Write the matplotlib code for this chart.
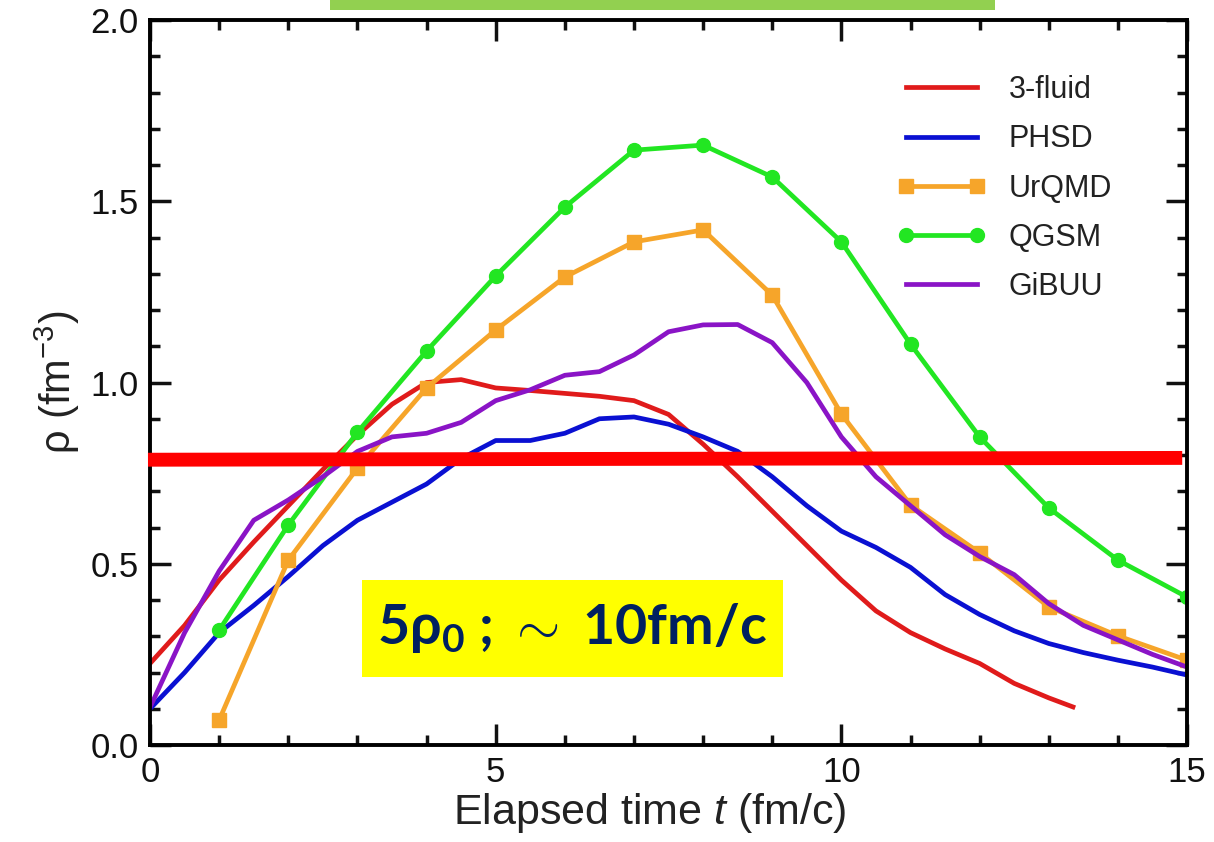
import numpy as np
import matplotlib
matplotlib.use('Agg')
import matplotlib.pyplot as plt
from matplotlib.patches import Rectangle

'''
Data read off the reference picture
'''
t_model = [1, 2, 3, 4, 5, 6, 7, 8, 9, 10, 11, 12, 13, 14, 15]
rho_urqmd = [0.069, 0.51, 0.764, 0.985, 1.145, 1.291, 1.388, 1.421, 1.241,
             0.913, 0.662, 0.53, 0.381, 0.301, 0.234]
rho_qgsm = [0.317, 0.607, 0.863, 1.087, 1.294, 1.484, 1.641, 1.655, 1.567,
            1.388, 1.106, 0.85, 0.654, 0.51, 0.408]

t_fluid = [0, 0.5, 1, 1.5, 2, 2.5, 3, 3.5, 4, 4.5, 5, 5.5, 6, 6.5, 7, 7.5,
           8, 8.5, 9, 9.5, 10, 10.5, 11, 11.5, 12, 12.5, 13, 13.35]
rho_fluid = [0.225, 0.33, 0.455, 0.56, 0.66, 0.76, 0.855, 0.94, 1.0, 1.008,
             0.985, 0.978, 0.97, 0.962, 0.95, 0.912, 0.83, 0.74, 0.645,
             0.55, 0.455, 0.37, 0.31, 0.265, 0.225, 0.17, 0.13, 0.105]

t_half = [0, 0.5, 1, 1.5, 2, 2.5, 3, 3.5, 4, 4.5, 5, 5.5, 6, 6.5, 7, 7.5,
          8, 8.5, 9, 9.5, 10, 10.5, 11, 11.5, 12, 12.5, 13, 13.5, 14, 14.5, 15]
rho_phsd = [0.10, 0.2, 0.31, 0.385, 0.465, 0.55, 0.62, 0.67, 0.72, 0.79,
            0.84, 0.84, 0.86, 0.9, 0.905, 0.885, 0.85, 0.81, 0.74, 0.66,
            0.59, 0.545, 0.49, 0.415, 0.36, 0.315, 0.28, 0.255, 0.234, 0.215,
            0.193]
rho_gibuu = [0.104, 0.31, 0.48, 0.62, 0.676, 0.74, 0.81, 0.85, 0.86, 0.89,
             0.95, 0.98, 1.02, 1.03, 1.076, 1.14, 1.159, 1.16, 1.11, 1.0,
             0.85, 0.74, 0.66, 0.58, 0.52, 0.47, 0.39, 0.33, 0.29, 0.25,
             0.215]

# Hand-drawn threshold bar (5 rho_0)
threshold_t = [-0.03, 14.93]
threshold_rho = [0.787, 0.792]

note_text = '5ρ$_{\\mathbf{0}}$ ; ${\\sim}$ 10fm/c'

# Fonts
plt.rcParams['font.family'] = ['Liberation Sans', 'DejaVu Sans']
plt.rcParams['mathtext.fontset'] = 'custom'
plt.rcParams['mathtext.rm'] = 'Liberation Sans'
plt.rcParams['mathtext.it'] = 'Liberation Sans:italic'
plt.rcParams['mathtext.bf'] = 'Lato:bold'

fig = plt.figure(figsize=(12.14, 8.42), dpi=100)
ax = fig.add_axes([0.1236, 0.1152, 0.8542, 0.861])

ax.plot(t_fluid, rho_fluid, color='#e01b1b', lw=3.4, label='3-fluid')
ax.plot(t_half, rho_phsd, color='#0a10d2', lw=3.4, label='PHSD')
ax.plot(t_model, rho_urqmd, color='#f6a52a', lw=3.4, marker='s', ms=10,
        label='UrQMD')
ax.plot(t_model, rho_qgsm, color='#22e622', lw=3.4, marker='o', ms=10,
        label='QGSM')
ax.plot(t_half, rho_gibuu, color='#8a14c6', lw=3.4, label='GiBUU')

ax.plot(threshold_t, threshold_rho, color='#ff0000', lw=10,
        solid_capstyle='butt', clip_on=False, zorder=5)

ax.set_xlim(0, 15)
ax.set_ylim(0, 2.0)
ax.set_xticks([0, 5, 10, 15])
ax.set_xticks(np.arange(0, 16, 1), minor=True)
ax.set_yticks([0, 0.5, 1.0, 1.5, 2.0])
ax.set_yticklabels(['0.0', '0.5', '1.0', '1.5', '2.0'])
ax.set_yticks(np.arange(0, 2.01, 0.1), minor=True)
ax.tick_params(which='both', direction='in', top=True, right=True,
               labelsize=25, width=2.5, colors='#111111')
ax.tick_params(which='major', length=15, pad=8)
ax.tick_params(which='minor', length=7.5)
for s in ax.spines.values():
    s.set_linewidth(2.8)

ax.set_xlabel('Elapsed time $t$ (fm/c)', fontsize=31, color='#222222')
ax.xaxis.set_label_coords(0.482, -0.064)
ax.set_ylabel('ρ (fm$^{-3}$)', fontsize=30, color='#222222', labelpad=6)

leg = ax.legend(loc='upper left', bbox_to_anchor=(0.694, 0.962),
                frameon=False, fontsize=22, handlelength=2.9, numpoints=2,
                labelspacing=0.63, handletextpad=0.75)
for txt in leg.get_texts():
    txt.set_color('#222222')

# Decorations of the slide
fig.patches.append(Rectangle((330 / 1214, 1 - 10 / 842), 665 / 1214,
                             10 / 842, transform=fig.transFigure,
                             facecolor='#92d050', edgecolor='none'))
fig.patches.append(Rectangle((362 / 1214, 1 - 677 / 842), 421 / 1214,
                             97 / 842, transform=fig.transFigure,
                             facecolor='#ffff00', edgecolor='none', zorder=6))
fig.text(572 / 1214, 1 - 628 / 842, note_text, ha='center', va='center',
         fontsize=40, fontweight='bold', color='#002060',
         family=['Lato', 'DejaVu Sans'], zorder=7)

plt.savefig('out.png', dpi=100)
